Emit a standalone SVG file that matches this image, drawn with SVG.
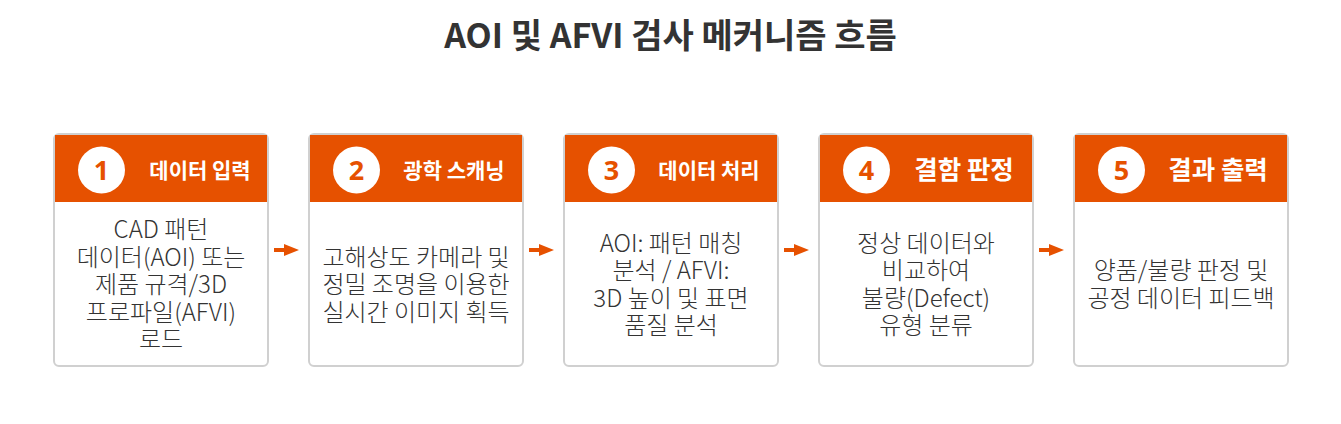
<svg xmlns="http://www.w3.org/2000/svg" width="1341" height="424" viewBox="0 0 1341 424">
<style>
.card{fill:#ffffff;stroke:#d0d0d0;stroke-width:2}
.hdr{fill:#E65100}
.num-bg{fill:#ffffff}
.num{font-family:"Noto Sans","Noto Sans CJK KR",sans-serif;font-weight:700;font-size:27px;fill:#E65100;text-anchor:middle}
.ht{font-family:"Noto Sans CJK KR","Noto Sans",sans-serif;font-weight:700;fill:#ffffff;text-anchor:middle}
.body{font-family:"Noto Sans CJK KR","Noto Sans",sans-serif;font-weight:300;font-size:24px;fill:#333333;text-anchor:middle}
.title{font-family:"Noto Sans CJK KR","Noto Sans",sans-serif;font-weight:700;font-size:34px;fill:#333333;text-anchor:middle}
.conn{stroke:#E65100;stroke-width:4;fill:none}
.head{fill:#E65100}
</style>
<rect width="1341" height="424" fill="#ffffff"/>
<text class="title" x="670.5" y="47.5">AOI 및 AFVI 검사 메커니즘 흐름</text>

<g id="node1">
<rect class="card" x="54" y="134" width="214" height="232" rx="5"/>
<rect class="hdr" x="55" y="135" width="212" height="67"/>
<circle class="num-bg" cx="101.5" cy="170" r="23.5"/>
<text class="num" x="101.5" y="179.5">1</text>
<text class="ht" x="200" y="177.5" font-size="21">데이터 입력</text>
<text class="body" x="161" y="238">CAD 패턴</text>
<text class="body" x="161" y="265.5">데이터(AOI) 또는</text>
<text class="body" x="161" y="293">제품 규격/3D</text>
<text class="body" x="161" y="320.5">프로파일(AFVI)</text>
<text class="body" x="161" y="348">로드</text>
</g>

<g id="node2">
<rect class="card" x="309" y="134" width="214" height="232" rx="5"/>
<rect class="hdr" x="310" y="135" width="212" height="67"/>
<circle class="num-bg" cx="356.5" cy="170" r="23.5"/>
<text class="num" x="356.5" y="179.5">2</text>
<text class="ht" x="454" y="177.5" font-size="21">광학 스캐닝</text>
<text class="body" x="416" y="265.5">고해상도 카메라 및</text>
<text class="body" x="416" y="293">정밀 조명을 이용한</text>
<text class="body" x="416" y="320.5">실시간 이미지 획득</text>
</g>

<g id="node3">
<rect class="card" x="564" y="134" width="214" height="232" rx="5"/>
<rect class="hdr" x="565" y="135" width="212" height="67"/>
<circle class="num-bg" cx="611.5" cy="170" r="23.5"/>
<text class="num" x="611.5" y="179.5">3</text>
<text class="ht" x="709" y="177.5" font-size="21">데이터 처리</text>
<text class="body" x="671" y="251.5">AOI: 패턴 매칭</text>
<text class="body" x="671" y="279">분석 / AFVI:</text>
<text class="body" x="671" y="306.5">3D 높이 및 표면</text>
<text class="body" x="671" y="334">품질 분석</text>
</g>

<g id="node4">
<rect class="card" x="819" y="134" width="214" height="232" rx="5"/>
<rect class="hdr" x="820" y="135" width="212" height="67"/>
<circle class="num-bg" cx="866.5" cy="170" r="23.5"/>
<text class="num" x="866.5" y="179.5">4</text>
<text class="ht" x="964" y="179" font-size="25.5">결함 판정</text>
<text class="body" x="926" y="251.5">정상 데이터와</text>
<text class="body" x="926" y="279">비교하여</text>
<text class="body" x="926" y="306.5">불량(Defect)</text>
<text class="body" x="926" y="334">유형 분류</text>
</g>

<g id="node5">
<rect class="card" x="1074" y="134" width="214" height="232" rx="5"/>
<rect class="hdr" x="1075" y="135" width="212" height="67"/>
<circle class="num-bg" cx="1121.5" cy="170" r="23.5"/>
<text class="num" x="1121.5" y="179.5">5</text>
<text class="ht" x="1218" y="179" font-size="25.5">결과 출력</text>
<text class="body" x="1181" y="279">양품/불량 판정 및</text>
<text class="body" x="1181" y="306.5">공정 데이터 피드백</text>
</g>

<g id="connectors">
<line class="conn" x1="274" y1="250" x2="286" y2="250"/>
<polygon class="head" points="284,244 299,250 284,256"/>
<line class="conn" x1="529" y1="250" x2="541" y2="250"/>
<polygon class="head" points="539,244 554,250 539,256"/>
<line class="conn" x1="784" y1="250" x2="796" y2="250"/>
<polygon class="head" points="794,244 809,250 794,256"/>
<line class="conn" x1="1039" y1="250" x2="1051" y2="250"/>
<polygon class="head" points="1049,244 1064,250 1049,256"/>
</g>
</svg>
